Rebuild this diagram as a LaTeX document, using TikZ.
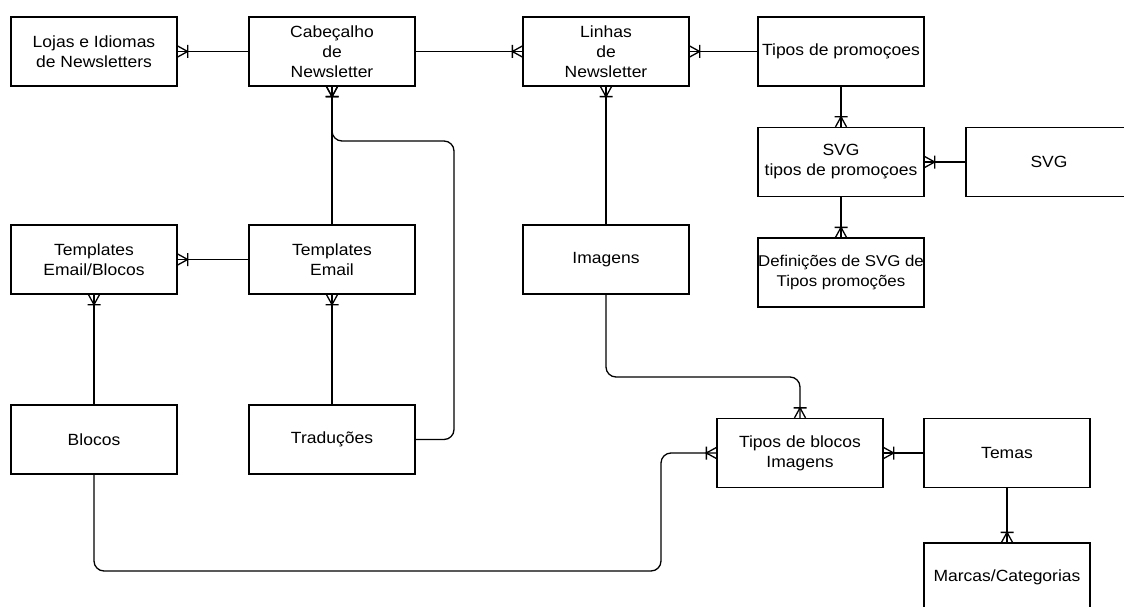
\documentclass[tikz,border=0pt]{standalone}
\usepackage{fontspec}
\setmainfont{Liberation Sans}[FakeStretch=1.08]
\usetikzlibrary{arrows.meta}

% "one or many" crow's foot end: a fan meeting the entity plus a bar
\pgfdeclarearrow{
  name = crowmany,
  setup code = {
    \pgfarrowssettipend{0pt}
    \pgfarrowssetlineend{0pt}
    \pgfarrowssetbackend{-11pt}
    \pgfarrowssetvisualbackend{-11pt}
    \pgfarrowshullpoint{0pt}{6.5pt}
    \pgfarrowshullpoint{0pt}{-6.5pt}
    \pgfarrowshullpoint{-11pt}{6.5pt}
    \pgfarrowshullpoint{-11pt}{-6.5pt}
  },
  drawing code = {
    \pgfsetdash{}{0pt}
    \pgfpathmoveto{\pgfqpoint{0pt}{5.5pt}}
    \pgfpathlineto{\pgfqpoint{-10pt}{0pt}}
    \pgfpathlineto{\pgfqpoint{0pt}{-5.5pt}}
    \pgfpathmoveto{\pgfqpoint{-10pt}{6.5pt}}
    \pgfpathlineto{\pgfqpoint{-10pt}{-6.5pt}}
    \pgfusepathqstroke
  },
  defaults = {}
}

\tikzset{
  entity/.style={draw, line width=1.3pt, minimum width=166pt, minimum height=69pt,
    inner sep=0pt, align=center, font=\fontsize{16.2}{20}\selectfont},
  rel/.style={line width=1.3pt, -crowmany, rounded corners=10pt}
}

\begin{document}
\begin{tikzpicture}[x=1pt, y=-1pt]
\useasboundingbox (0,0) rectangle (1124,607);
\clip (0,0) rectangle (1124,607);
\fill[white] (0,0) rectangle (1124,607);

% entities
\node[entity] (lojas) at (94,51.5)   {Lojas e Idiomas\\de Newsletters};
\node[entity] (cab)   at (332,51.5)  {Cabeçalho\\de\\Newsletter};
\node[entity] (lin)   at (606,51.5)  {Linhas\\de\\Newsletter};
\node[entity] (tprom) at (841,51.5)  {Tipos de promoçoes};
\node[entity] (svgt)  at (841,162)   {SVG\\tipos de promoçoes};
\node[entity] (svg)   at (1049,162)  {SVG};
\node[entity, font=\fontsize{15.6}{20}\selectfont]
              (defs)  at (841,272.5) {Definições de SVG de\\Tipos promoções};
\node[entity] (teb)   at (94,259.5)  {Templates\\Email/Blocos};
\node[entity] (te)    at (332,259.5) {Templates\\Email};
\node[entity] (img)   at (606,259.5) {Imagens};
\node[entity] (blo)   at (94,439.5)  {Blocos};
\node[entity] (tr)    at (332,439.5) {Traduções};
\node[entity] (tdb)   at (800,453)   {Tipos de blocos\\Imagens};
\node[entity] (tem)   at (1007,453)  {Temas};
\node[entity] (mar)   at (1007,577.5){Marcas/Categorias};

% bends of the routed connectors
\coordinate (k1) at (454,141);
\coordinate (k2) at (800,377);
\coordinate (k3) at (661,571);

% relationships
\draw[rel] (cab.west)    -- (lojas.east);
\draw[rel] (cab.east)    -- (lin.west);
\draw[rel] (tprom.west)  -- (lin.east);
\draw[rel] (tprom.south) -- (svgt.north);
\draw[rel] (svg.west)    -- (svgt.east);
\draw[rel] (svgt.south)  -- (defs.north);
\draw[rel] (te.north)    -- (cab.south);
\draw[rel] (tr.east) -| (k1) -| (cab.south);
\draw[rel] (te.west)     -- (teb.east);
\draw[rel] (blo.north)   -- (teb.south);
\draw[rel] (tr.north)    -- (te.south);
\draw[rel] (img.north)   -- (lin.south);
\draw[rel] (img.south) |- (k2) -- (tdb.north);
\draw[rel] (blo.south) |- (k3) |- (tdb.west);
\draw[rel] (tem.west)    -- (tdb.east);
\draw[rel] (tem.south)   -- (mar.north);
\end{tikzpicture}
\end{document}
